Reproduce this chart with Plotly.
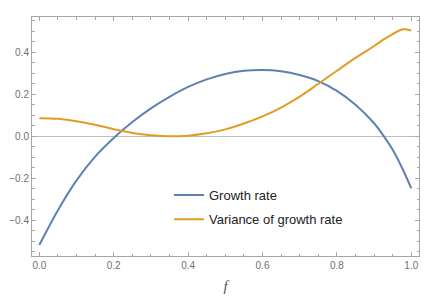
import plotly.graph_objects as go

f_vals = [0.0, 0.05, 0.1, 0.15, 0.2, 0.25, 0.3, 0.35, 0.4, 0.45, 0.5, 0.55,
          0.6, 0.65, 0.7, 0.75, 0.8, 0.85, 0.9, 0.925, 0.95, 0.975, 1.0]
growth_rate = [-0.518, -0.352, -0.210, -0.097, -0.008, 0.068, 0.133, 0.188, 0.235,
               0.271, 0.297, 0.312, 0.316, 0.310, 0.292, 0.263, 0.216, 0.150,
               0.062, 0.003, -0.064, -0.150, -0.248]
variance = [0.086, 0.083, 0.072, 0.055, 0.034, 0.016, 0.005, 0.000, 0.003, 0.014,
            0.033, 0.061, 0.095, 0.137, 0.189, 0.250, 0.312, 0.373, 0.430, 0.460,
            0.487, 0.509, 0.503]

x_ticks = [0.0, 0.2, 0.4, 0.6, 0.8, 1.0]
y_ticks = [-0.4, -0.2, 0.0, 0.2, 0.4]

BLUE = "#5E81B5"
ORANGE = "#E19C24"
FRAME = "#a6a6a6"
TICKFONT = dict(family="Liberation Sans, Arial, sans-serif", size=10, color="#707070")

fig = go.Figure()
fig.add_trace(go.Scatter(x=f_vals, y=growth_rate, mode="lines", name="Growth rate",
                         line=dict(color=BLUE, width=2, shape="spline", smoothing=1.0),
                         legend="legend", showlegend=True))
fig.add_trace(go.Scatter(x=f_vals, y=variance, mode="lines", name="Variance of growth rate",
                         line=dict(color=ORANGE, width=2, shape="spline", smoothing=1.0),
                         legend="legend2", showlegend=True))

axis_common = dict(showgrid=False, showline=True, linecolor=FRAME, linewidth=1,
                   mirror="allticks", ticks="inside", ticklen=4, tickwidth=1,
                   tickcolor=FRAME, tickfont=TICKFONT, automargin=False)

fig.update_xaxes(range=[-0.0197, 1.0207], tickvals=x_ticks, ticktext=[f"{v:.1f}" for v in x_ticks],
                 minor=dict(ticks="inside", dtick=0.05, tick0=0, ticklen=2.5, tickcolor=FRAME),
                 zeroline=False,
                 title=dict(text="<i>f</i>", font=dict(family="Liberation Serif, Times New Roman, serif",
                                                       size=15, color="#555555"), standoff=10),
                 **axis_common)
fig.update_yaxes(range=[-0.570, 0.568], tickvals=y_ticks,
                 ticktext=[("\u2212" if v < 0 else "") + f"{abs(v):.1f}" for v in y_ticks],
                 minor=dict(ticks="inside", dtick=0.05, tick0=0, ticklen=2.5, tickcolor=FRAME),
                 zeroline=True, zerolinecolor="#bdbdbd", zerolinewidth=1,
                 **axis_common)

legend_font = dict(family="Liberation Sans, Arial, sans-serif", size=13, color="#222222")
fig.update_layout(
    width=428, height=299,
    margin=dict(l=24, r=17, t=9, b=51),
    plot_bgcolor="white", paper_bgcolor="white",
    showlegend=True,
    legend=dict(x=0.354, y=0.255, xanchor="left", yanchor="middle", font=legend_font,
                bgcolor="rgba(0,0,0,0)", borderwidth=0),
    legend2=dict(x=0.354, y=0.1535, xanchor="left", yanchor="middle", font=legend_font,
                 bgcolor="rgba(0,0,0,0)", borderwidth=0),
)

fig.write_html("out.html")
